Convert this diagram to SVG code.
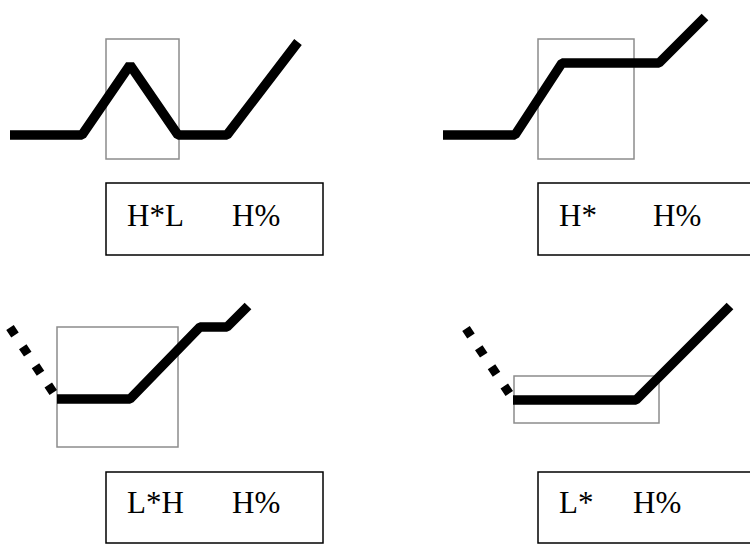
<svg xmlns="http://www.w3.org/2000/svg" width="750" height="544" viewBox="0 0 750 544">
<style>
.bg{fill:#ffffff}
.contour{fill:none;stroke:#000;stroke-width:9.5;stroke-linejoin:bevel;stroke-linecap:butt}
.dots{fill:none;stroke:#000;stroke-width:9;stroke-dasharray:9 14;stroke-linecap:butt}
.win{fill:none;stroke:#8c8c8c;stroke-width:1.5}
.lbl{fill:#fff;stroke:#000;stroke-width:1.5}
.t{font-family:"Liberation Serif","Times New Roman",serif;font-size:31px;fill:#000}
</style>
<rect class="bg" x="0" y="0" width="750" height="544"/>
<g id="panel-HstarL">
  <rect class="win" x="106" y="39" width="73" height="120"/>
  <polyline class="contour" points="10,135 82,135 130,65 178,135 227,135 298,42"/>
  <rect class="lbl" x="106" y="183" width="217" height="72"/>
  <text class="t" x="127" y="226">H*L</text>
  <text class="t" x="232" y="226">H%</text>
</g>
<g id="panel-Hstar">
  <rect class="win" x="538" y="39" width="96" height="120"/>
  <polyline class="contour" points="443,135 515,135 562,63 659,63 705,17"/>
  <rect class="lbl" x="538" y="183" width="220" height="72"/>
  <text class="t" x="559" y="226">H*</text>
  <text class="t" x="653" y="226">H%</text>
</g>
<g id="panel-LstarH">
  <rect class="win" x="57" y="327" width="121" height="120"/>
  <path class="dots" d="M10,327.5 L57,398"/>
  <polyline class="contour" points="57,399 130,399 200,327 227,327 248,306"/>
  <rect class="lbl" x="106" y="472" width="217" height="71"/>
  <text class="t" x="127" y="513">L*H</text>
  <text class="t" x="232" y="513">H%</text>
</g>
<g id="panel-Lstar">
  <rect class="win" x="514" y="376" width="145" height="47"/>
  <path class="dots" d="M466,328.5 L513,399"/>
  <polyline class="contour" points="513,400 636,400 730,306"/>
  <rect class="lbl" x="538" y="472" width="220" height="71"/>
  <text class="t" x="559" y="513">L*</text>
  <text class="t" x="633" y="513">H%</text>
</g>
</svg>
